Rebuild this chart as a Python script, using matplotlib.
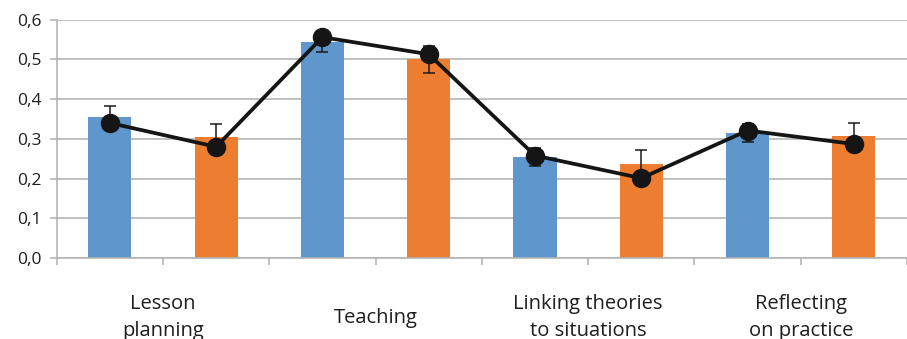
import numpy as np
import matplotlib
matplotlib.use("Agg")
import matplotlib.pyplot as plt
from matplotlib.ticker import FuncFormatter

plt.rcParams['font.family'] = ['Open Sans', 'DejaVu Sans']

# data (8 bars: blue / orange pairs per category)
categories = ["Lesson\nplanning", "Teaching", "Linking theories\nto situations", "Reflecting\non practice"]
bar_values = [0.355, 0.304, 0.544, 0.500, 0.254, 0.237, 0.314, 0.306]
bar_errors = [0.027, 0.034, 0.025, 0.034, 0.022, 0.034, 0.023, 0.035]
line_values = [0.340, 0.280, 0.556, 0.513, 0.258, 0.201, 0.321, 0.287]
bar_colors = ["#5f97cc", "#ed7d31"] * 4

grid_col = "#b5b5b5"
text_col = "#1e1e1e"

fig = plt.figure(figsize=(9.07, 3.39), dpi=100)
ax = fig.add_axes([0.0625, 0.2389, 0.9375, 0.7030])

x = np.arange(len(bar_values))
ax.bar(x, bar_values, width=0.405, color=bar_colors, zorder=2)
ax.errorbar(x, bar_values, yerr=bar_errors, fmt='none', ecolor='#1a1a1a',
            elinewidth=1.1, capsize=4, capthick=1.1, zorder=3)
ax.plot(x, line_values, color='#151515', linewidth=2.7, marker='o',
        markersize=13, zorder=4)

ax.set_xlim(-0.5, len(bar_values) - 0.5)
ax.set_ylim(0, 0.6)
ax.set_yticks(np.arange(0, 0.61, 0.1))
ax.yaxis.set_major_formatter(FuncFormatter(lambda v, p: f"{v:.1f}".replace('.', ',')))
ax.set_xticks(np.arange(-0.5, len(bar_values), 1.0))
ax.set_xticklabels([])

ax.grid(axis='y', color=grid_col, linewidth=1.2, zorder=0)
for side in ['top', 'right']:
    ax.spines[side].set_visible(False)
for side in ['left', 'bottom']:
    ax.spines[side].set_color(grid_col)
    ax.spines[side].set_linewidth(1.2)
ax.tick_params(axis='both', colors=grid_col, length=5, width=1.2)
ax.tick_params(axis='y', labelcolor=text_col, labelsize=12.5, pad=6)

for i, cat in enumerate(categories):
    ax.text(2 * i + 0.5, -0.25, cat, transform=ax.get_xaxis_transform(),
            ha='center', va='center', fontsize=14.5, color=text_col,
            linespacing=1.42, clip_on=False)

fig.savefig("out.png", dpi=100)
